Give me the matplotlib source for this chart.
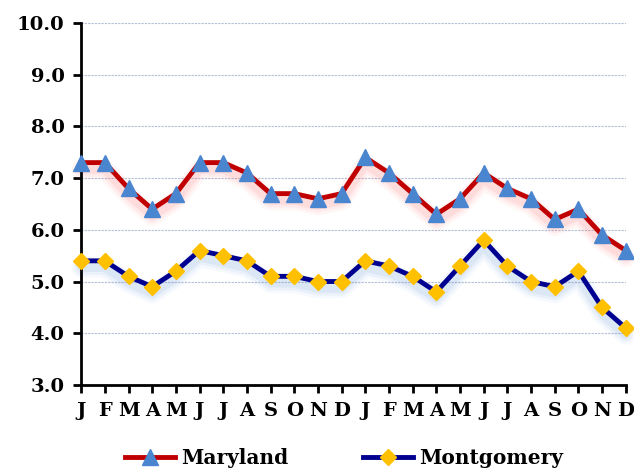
import matplotlib.pyplot as plt
import matplotlib.transforms as mtransforms

months = ["J", "F", "M", "A", "M", "J", "J", "A", "S", "O", "N", "D"] * 2
maryland = [7.3, 7.3, 6.8, 6.4, 6.7, 7.3, 7.3, 7.1, 6.7, 6.7, 6.6, 6.7,
            7.4, 7.1, 6.7, 6.3, 6.6, 7.1, 6.8, 6.6, 6.2, 6.4, 5.9, 5.6]
montgomery = [5.4, 5.4, 5.1, 4.9, 5.2, 5.6, 5.5, 5.4, 5.1, 5.1, 5.0, 5.0,
              5.4, 5.3, 5.1, 4.8, 5.3, 5.8, 5.3, 5.0, 4.9, 5.2, 4.5, 4.1]

plt.rcParams['font.family'] = ['DejaVu Serif']
plt.rcParams['font.weight'] = 'bold'

fig = plt.figure(figsize=(6.34, 4.70), dpi=100)
ax = fig.add_axes([0.128, 0.181, 0.859, 0.770])

x = list(range(len(months)))

# soft shadows under the lines
shadow = mtransforms.offset_copy(ax.transData, fig=fig, x=0, y=-7, units='dots')
for lw, a in [(14, 0.05), (10, 0.07), (6, 0.1)]:
    ax.plot(x, maryland, color='#ff6060', lw=lw, alpha=a, transform=shadow,
            solid_capstyle='round', solid_joinstyle='round', clip_on=False, zorder=2)
    ax.plot(x, montgomery, color='#5b8fd8', lw=lw, alpha=a, transform=shadow,
            solid_capstyle='round', solid_joinstyle='round', clip_on=False, zorder=2)

ax.plot(x, maryland, color='#c00000', lw=3.5, marker='^', ms=11,
        mfc='#4a86d0', mec='#4a86d0', label='Maryland', clip_on=False, zorder=3)
ax.plot(x, montgomery, color='#000090', lw=3.5, marker='D', ms=8,
        mfc='#ffc000', mec='#ffc000', label='Montgomery', clip_on=False, zorder=3)

ax.set_xlim(0, 23)
ax.set_ylim(3, 10)
ax.set_xticks(x)
ax.set_xticklabels(months, fontsize=14)
ax.set_yticks([3, 4, 5, 6, 7, 8, 9, 10])
ax.set_yticklabels([f"{v:.1f}" for v in range(3, 11)], fontsize=14)

ax.grid(axis='y', color='#b4bed4', ls=(0, (2, 1)), lw=0.8)
ax.set_axisbelow(True)
for s in ['top', 'right']:
    ax.spines[s].set_visible(False)
for s in ['left', 'bottom']:
    ax.spines[s].set_linewidth(2)
ax.tick_params(axis='both', width=2, length=6, pad=6, colors='black')

ax.legend(loc='upper center', bbox_to_anchor=(0.483, -0.125), ncol=2, frameon=False,
          fontsize=14.5, handlelength=2.5, columnspacing=3.7, handletextpad=0.3)

fig.savefig('out.png', dpi=100)
